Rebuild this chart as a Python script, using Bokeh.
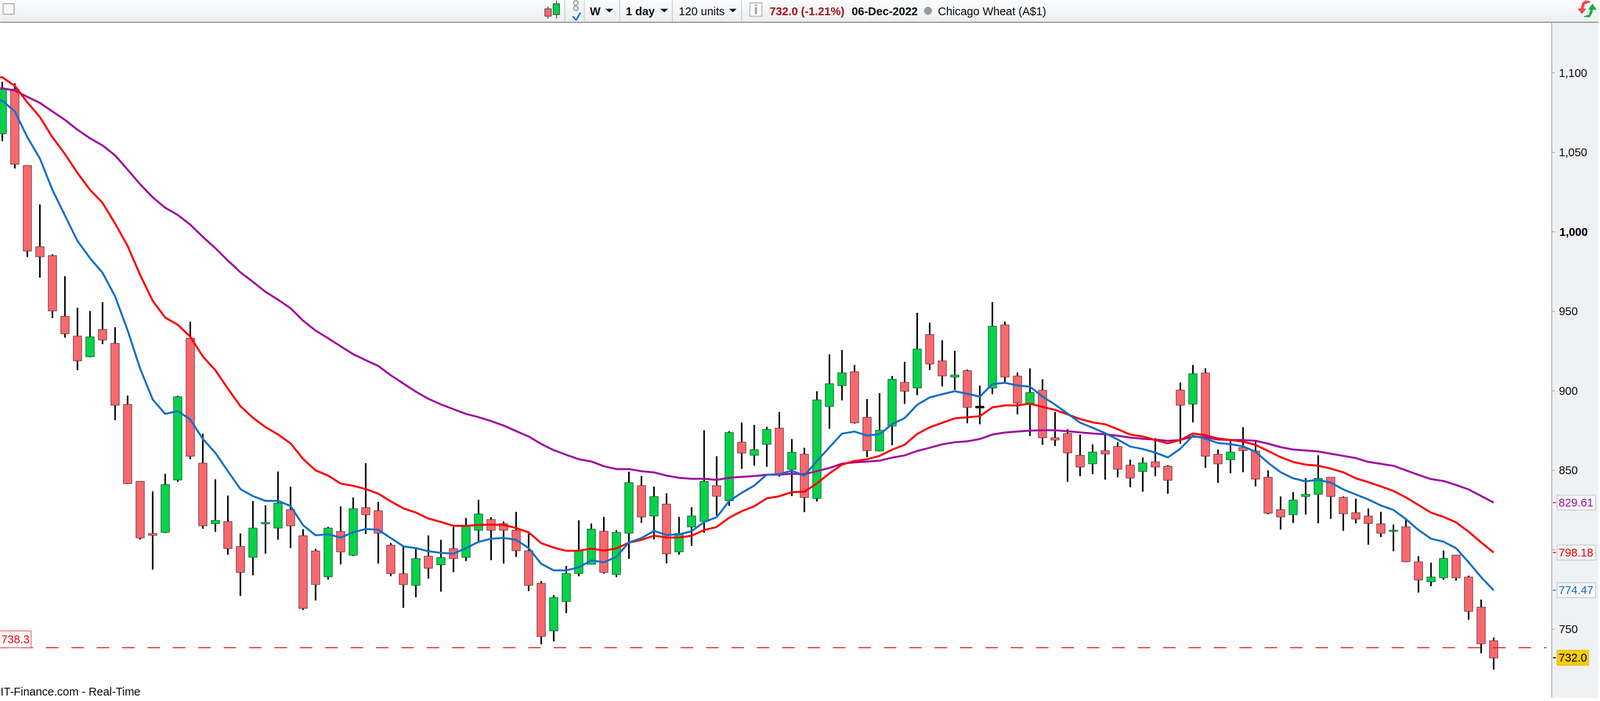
from bokeh.plotting import figure
from bokeh.embed import file_html
from bokeh.resources import INLINE
from bokeh.core.properties import value
from bokeh.models import Range1d, LinearAxis, FixedTicker, NumeralTickFormatter

# ---------- data ----------
opens = [1061.6,1089.8,1041.7,990.6,985.0,946.8,934.4,921.4,938.5,929.8,891.4,843.0,810.2,810.8,843.8,933.1,854.4,816.4,817.7,802.0,
         795.2,816.3,813.6,825.2,808.8,799.2,782.9,811.5,796.5,826.5,824.5,802.8,784.8,777.5,795.9,790.5,800.6,795.2,812.2,819.0,
         816.4,812.2,799.3,778.9,748.9,767.3,785.0,790.8,811.6,784.4,810.4,840.3,821.2,828.7,798.6,814.3,817.8,840.3,830.8,867.6,
         859.4,866.3,876.5,850.5,860.1,832.2,890.1,903.2,911.9,883.3,862.1,877.8,905.2,901.7,935.3,918.8,908.6,912.7,890.3,901.7,
         941.4,909.3,892.0,900.3,870.4,873.1,859.4,854.0,862.3,864.9,853.2,849.2,855.2,852.5,900.4,891.6,911.2,860.0,856.6,864.2,
         862.1,845.6,825.2,822.0,833.5,834.8,845.6,832.9,823.2,821.1,816.3,811.5,814.4,792.4,779.8,782.3,796.6,782.8,763.8,742.7]
highs = [1094.4,1093.5,1041.7,1017.2,985.8,972.1,952.3,950.2,955.7,940.0,897.0,843.0,836.7,847.7,896.8,943.4,872.9,844.3,834.1,810.2,
         830.6,827.9,849.2,839.7,812.9,800.6,814.3,827.2,832.8,854.5,830.0,804.2,801.7,801.0,809.0,806.2,814.3,819.9,831.4,820.5,
         817.8,823.8,810.1,780.2,771.4,789.7,818.5,816.5,820.6,812.3,849.1,846.4,839.7,835.5,820.6,826.7,875.1,858.8,874.5,880.0,
         878.5,877.3,886.7,869.6,864.1,899.7,922.9,925.6,916.2,894.8,898.5,909.3,918.2,949.0,942.8,931.8,925.1,913.3,903.2,955.8,
         943.4,911.5,914.0,907.2,886.7,875.8,872.4,866.2,873.6,867.6,856.6,858.0,870.2,853.2,905.2,916.2,914.1,863.0,868.5,877.0,
         869.0,849.9,833.5,836.2,845.1,859.4,845.6,833.5,832.1,825.9,823.9,815.8,819.6,795.9,791.8,799.5,796.6,783.7,768.6,744.7]
lows = [1057.0,1039.8,984.0,971.1,945.7,933.4,912.9,921.0,929.3,881.5,841.2,806.4,787.4,810.5,842.6,856.9,813.2,811.2,796.8,770.8,
        783.9,797.5,806.3,801.0,762.1,768.0,781.2,790.7,796.0,809.8,791.3,783.3,763.4,770.1,781.8,773.6,785.8,792.8,805.5,793.4,
        791.3,795.4,773.9,740.4,742.2,760.1,783.3,790.8,784.8,782.7,794.2,816.8,806.5,791.4,796.9,802.4,810.7,821.5,827.6,850.8,
        852.9,852.1,846.0,833.7,823.6,830.3,876.0,893.9,879.3,858.2,861.8,865.7,891.7,897.2,913.0,902.7,900.5,879.5,878.9,897.8,
        905.2,885.1,871.5,866.0,865.2,842.7,846.2,847.5,844.1,845.5,839.3,836.5,846.2,835.2,866.6,880.1,851.5,842.0,848.0,848.7,
        839.8,822.3,812.7,816.8,822.1,816.6,819.4,811.8,816.6,803.1,807.9,799.0,792.1,773.0,777.0,781.1,780.6,755.9,734.8,724.5]
closes = [1089.6,1042.5,987.9,984.3,950.2,935.8,918.8,933.9,931.9,890.9,841.5,807.4,809.0,841.0,896.2,858.8,815.0,818.4,800.7,785.7,
          813.6,817.1,829.3,815.0,763.1,778.1,813.6,798.6,825.8,821.9,810.4,785.0,778.1,794.4,788.3,795.1,794.4,815.0,822.4,812.2,
          812.2,799.3,777.5,745.4,769.9,785.0,799.3,812.9,785.6,810.9,842.2,820.6,833.4,797.4,810.2,821.2,843.0,833.6,873.7,860.8,
          862.9,875.7,847.2,861.3,832.8,894.2,904.4,911.3,879.8,862.3,875.1,907.2,899.7,926.2,916.8,909.3,909.9,889.5,889.1,940.6,
          908.6,892.2,898.9,870.4,869.0,860.9,852.0,861.4,860.2,850.6,845.1,854.6,852.0,843.7,890.9,910.7,858.8,854.0,861.4,862.3,
          844.4,823.0,820.6,831.2,834.8,844.9,833.5,822.6,819.2,816.5,810.3,812.2,792.4,780.9,782.8,794.5,782.3,761.2,740.8,731.9]
doji_index = 78

# moving averages: first entry sits one bar before the first candle
ma_blue = [1082,1082.5,1075.7,1059.5,1046.1,1026.4,1010.2,994.2,983.4,974.2,959.4,938,913.9,894.5,885.4,887.2,881.9,869.7,860.9,849.4,838.1,
           833.7,830.7,830.7,827.5,815.4,809,809.7,807.6,810.9,813,812.5,807.3,802.1,801,799,798,797.5,801,804.9,806.9,
           807.4,806.2,801,791.1,787,787,788.9,793.3,792,795.5,804.6,807.3,811.8,809.3,809.6,811.6,817.4,820.4,830.6,835.8,
           840.3,847.2,847.5,849.7,846.6,855.8,864.4,873,874.3,871.8,872.6,879,882.8,891.1,895.8,897.8,899.7,898.1,896.3,904.2,
           905,903.3,902.5,896.3,891.3,885.6,879.9,876.7,873.3,869.3,864.9,863.3,861.1,858,863.5,871.7,869.8,867.1,866.4,865,
           861.6,854.7,848.7,844.9,843,843.9,842.2,837.9,834.7,831.6,827.8,825,819.2,812.4,806.9,805,800.9,792.1,782.7,774.47]
ma_red = [1097.5,1097.2,1091.8,1081.4,1072.2,1059.5,1048.9,1037,1026.4,1018.2,1005.2,991.1,972.8,956.6,946,941.5,934,921.6,912.9,901.3,890.3,
          883,877.1,872.5,866.9,857.1,849.9,846.6,841.6,840.2,838.1,835.3,830.4,826,823.4,819.6,817.4,815,815,815.6,815.7,
          815.6,813.6,810.9,804.1,801.3,799.3,799.3,800.7,799.4,800.8,804.4,806.2,808.8,807.7,807.6,808.8,812.3,814.3,820.1,824.2,
          827.3,832.3,833.6,836.2,836.4,841.7,848,853.5,855.8,856.9,859,862.9,866,872.8,877,879.8,882.6,883.3,884,889.5,
          890.8,890.8,891.9,889.8,888,885.1,882.2,880.1,878.9,875.8,872.4,871.2,869,866.9,869,873.1,872,870,869,868,
          865.9,862.1,858.2,855.2,853.5,852.8,851,848.7,844.9,842.5,839.8,837,832.9,828.1,823.3,820.6,817.2,811.3,804.6,798.18]
ma_purple = [1091,1090.3,1088.9,1084.9,1081.1,1075.7,1070.4,1064.2,1058.8,1054.3,1048.1,1039.1,1029.9,1021.7,1015.1,1010.6,1004.5,996.8,989.7,981.9,974.5,
             968.5,962.2,957.3,951.9,944.1,937.8,933,927.9,923,919.2,915.6,909.7,904.5,899.4,894.9,891.4,888.4,885.4,883.4,880.9,
             878.1,874.6,871.2,866.5,862.6,859.7,856.9,855.5,852.5,850.7,850.7,849.4,848.6,846.6,845.2,844.6,844.6,843.9,845.2,845.8,
             846.3,847.1,847.2,847.8,847.5,849.4,851.4,854.1,854.9,855.4,856,857.9,859.3,862.1,864.1,866.3,867.6,868.2,869.6,872.4,
             873.7,874.3,874.9,875.1,875.1,874.5,873.8,873.1,872.6,871.7,870.5,869.8,869.2,868.5,869,871.2,870.7,869.3,869,869,
             868.5,866.7,864.5,863,862.4,861.8,860.4,859,857.6,855.2,854,852.8,849.9,847,844.4,843.2,840.7,837.9,833.8,829.61]

y_ticks = [750, 800, 850, 900, 950, 1000, 1050, 1100]
stop_level = 738.3
last_price = 732.0
tags = [(829.61, "829.61", "#a0189b"), (798.18, "798.18", "#f00000"), (774.47, "774.47", "#1670c8")]
toolbar_left = ["W", "1 day"]
toolbar_units = "120 units"
toolbar_quote = "732.0 (-1.21%)"
toolbar_date = "06-Dec-2022"
toolbar_name = "Chicago Wheat (A$1)"
source_note = "IT-Finance.com - Real-Time"

FONT = value("Liberation Sans")
W, H, OFF = 4092, 1787, 8   # the page as photographed shows about 4108 px across
XS = (W + 2 * OFF) / 4242   # horizontal squeeze from reference pixels to page pixels

x0, dx, yk = 13.8, 33.13, 4.07
def to_i(px):
    return (px - x0) / dx
def to_v(py):
    return 1100 - (py - 194) / yk

ref_l, ref_r = OFF / XS, (OFF + W) / XS
p = figure(width=W, height=H, x_range=Range1d(to_i(ref_l), to_i(ref_r)), y_range=Range1d(to_v(OFF + H), to_v(OFF)),
           output_backend="svg", toolbar_location=None, min_border=0, x_axis_location=None, y_axis_location=None,
           outline_line_color=None, background_fill_color="#ffffff", border_fill_color="#ffffff")
p.grid.visible = False
# an auxiliary pair of ranges in reference pixels for the window furniture
p.extra_x_ranges["px"] = Range1d(ref_l, ref_r)
p.extra_y_ranges["px"] = Range1d(OFF + H, OFF)
PX = dict(x_range_name="px", y_range_name="px")

def box(l, r, tp, bt, color, line=None, lw=1, **kw):
    p.quad(left=[l], right=[r], top=[tp], bottom=[bt], fill_color=color, line_color=line, line_width=lw, **PX, **kw)

def txt(x, y, s, color="#111111", style="normal", size="29px", **kw):
    p.text(x=[x], y=[y], text=[s], text_color=color, text_font=FONT, text_font_style=style, text_font_size=size,
           text_baseline="middle", text_align="left", **PX, **kw)

# ---- panels ----
box(4110, 4237, 66, 1800, "#eff1f3")
strip = ["#fafbfc", "#f8f9fb", "#f6f8f9", "#f4f6f8", "#f2f4f6", "#f0f3f5", "#eef1f4", "#ecf0f3"]
bh = 55 / len(strip)
for i, c in enumerate(strip):
    box(0, 4300, 8 + i * bh, 8 + (i + 1) * bh + 0.5, c)
box(0, 4300, 63, 66, "#8f959b")
seps = [1501, 1552, 1646, 1785, 1968]
p.segment(seps, [0] * 5, seps, [63] * 5, line_color="#c3c8cc", line_width=2, **PX)
box(16, 45, 17, 44, "#f8f8f8", "#b4b6b8", 3)
p.segment([1456, 1479], [24, 9], [1456, 1479], [55, 55], line_color="#333333", line_width=2, **PX)
box(1448, 1465, 30, 49, "#f8686f", "#333333", 1.5)
box(1470, 1487, 17, 45, "#08cf48", "#333333", 1.5)
p.circle(x=[1530, 1530], y=[15, 29], radius=6, fill_color=None, line_color="#9b9b9b", line_width=3, **PX)
p.line([1522, 1531, 1542], [49, 59, 40], line_color="#1b6fe0", line_width=4, **PX)
for a, b in [(1608, 1629), (1753, 1774), (1935, 1955)]:
    p.patch([a, b, (a + b) / 2], [30, 30, 39], fill_color="#111111", line_color=None, **PX)
box(1990, 2022, 15, 49, "#fbfbfb", "#b4b8bb", 2.5)
box(2003, 2009, 26, 44, "#a8a8a8")
box(2003, 2009, 19, 23, "#a8a8a8")
p.circle(x=[2461], y=[35], radius=10, fill_color="#999999", line_color="#888888", **PX)
ax = lambda v: 3900 + v / 3
ay = lambda v: v / 3
p.patch([ax(v) for v in (937, 900, 872, 860, 835, 868, 905, 882, 892, 937)],
        [ay(v) for v in (34, 25, 42, 85, 90, 130, 90, 88, 55, 40)], fill_color="#f04a52", line_color=None, **PX)
p.patch([ax(v) for v in (885, 930, 950, 956, 986, 952, 918, 936, 925, 885)],
        [ay(v) for v in (152, 155, 125, 98, 97, 50, 97, 97, 135, 146)], fill_color="#10b53a", line_color=None, **PX)
txt(1567, 36, toolbar_left[0], style="bold")
txt(1662, 36, toolbar_left[1], style="bold")
txt(1802, 36, toolbar_units)
txt(2042, 36, toolbar_quote, color="#a8151a", style="bold")
txt(2259, 36, toolbar_date, style="bold")
txt(2487, 36, toolbar_name)

# ---- candles ----
idx = list(range(len(opens)))
ma_x = list(range(-1, len(opens)))
tops = [max(a, b) for a, b in zip(opens, closes)]
bots = [min(a, b) for a, b in zip(opens, closes)]
fills, edges = [], []
for i, (o, c) in enumerate(zip(opens, closes)):
    if i == doji_index:
        fills.append("#000000"); edges.append("#000000")
    elif c >= o:
        fills.append("#06d24a"); edges.append("#125f30")
    else:
        fills.append("#f8686f"); edges.append("#6b3a3e")
p.segment(idx, lows, idx, highs, line_color="#000000", line_width=4)
p.vbar(x=idx, width=0.67, top=tops, bottom=bots, fill_color=fills, line_color=edges, line_width=1.5)

p.line(ma_x, ma_purple, line_color="#a00fa0", line_width=5)
p.line(ma_x, ma_red, line_color="#ff0000", line_width=5)
p.line(ma_x, ma_blue, line_color="#1470c8", line_width=5)
p.line([to_i(ref_l), to_i(4096)], [stop_level, stop_level], line_color="#f01010", line_width=2.5,
       line_dash="32 33", line_dash_offset=13)

# ---- price axis ----
axis = LinearAxis(ticker=FixedTicker(ticks=y_ticks), formatter=NumeralTickFormatter(format="0,0"),
                  fixed_location=to_i(4110), bounds=(to_v(OFF + H), to_v(66)))
axis.major_label_overrides = {1000: ""}
axis.major_label_text_font = "Liberation Sans"
axis.major_label_text_font_size = "29px"
axis.major_label_text_color = "#111111"
axis.major_label_standoff = 10
axis.major_tick_out = 8
axis.major_tick_in = 0
axis.minor_tick_out = 0
axis.minor_tick_in = 0
axis.major_tick_line_color = "#a8a8a8"
axis.major_tick_line_width = 2
axis.axis_line_color = "#9a9da0"
axis.axis_line_width = 2
p.add_layout(axis, "right")

# ---- tags (above the axis) ----
def tag(v, s, color, bg, border, r):
    xl = to_i(4124); xr = to_i(r)
    p.quad(left=[xl], right=[xr], top=[v + 4.7], bottom=[v - 4.7], fill_color=bg, line_color=border, line_width=2, level="annotation")
    p.text(x=[to_i(4128)], y=[v], text=[s], text_color=color, text_font=FONT, text_font_size="29px", text_baseline="middle",
           text_align="left", level="annotation")
    p.segment([to_i(4113)], [v], [to_i(4121)], [v], line_color=color, line_width=2.5, level="annotation")

for v, s, c in tags:
    tag(v, s, c, "#f6f7f8", "#c4c8cc", 4226)
tag(last_price, f"{last_price:.1f}", "#000000", "#ffcc00", "#e6b800", 4207)

p.text(x=[to_i(4130)], y=[1000], text=["1,000"], text_color="#000000", text_font=FONT, text_font_style="bold",
       text_font_size="29px", text_baseline="middle", level="annotation")

# ---- stop tag ----
p.quad(left=[to_i(ref_l - 2)], right=[to_i(90)], top=[stop_level + 10.6], bottom=[stop_level], fill_color="#ffffff",
       line_color="#ee5a60", line_width=2)
p.text(x=[to_i(11)], y=[stop_level + 5.3], text=[f"{stop_level:.1f}"], text_color="#f01010", text_font=FONT,
       text_font_size="29px", text_baseline="middle")

txt(9, 1778, source_note)

open("out.html", "w").write(file_html(p, INLINE))
